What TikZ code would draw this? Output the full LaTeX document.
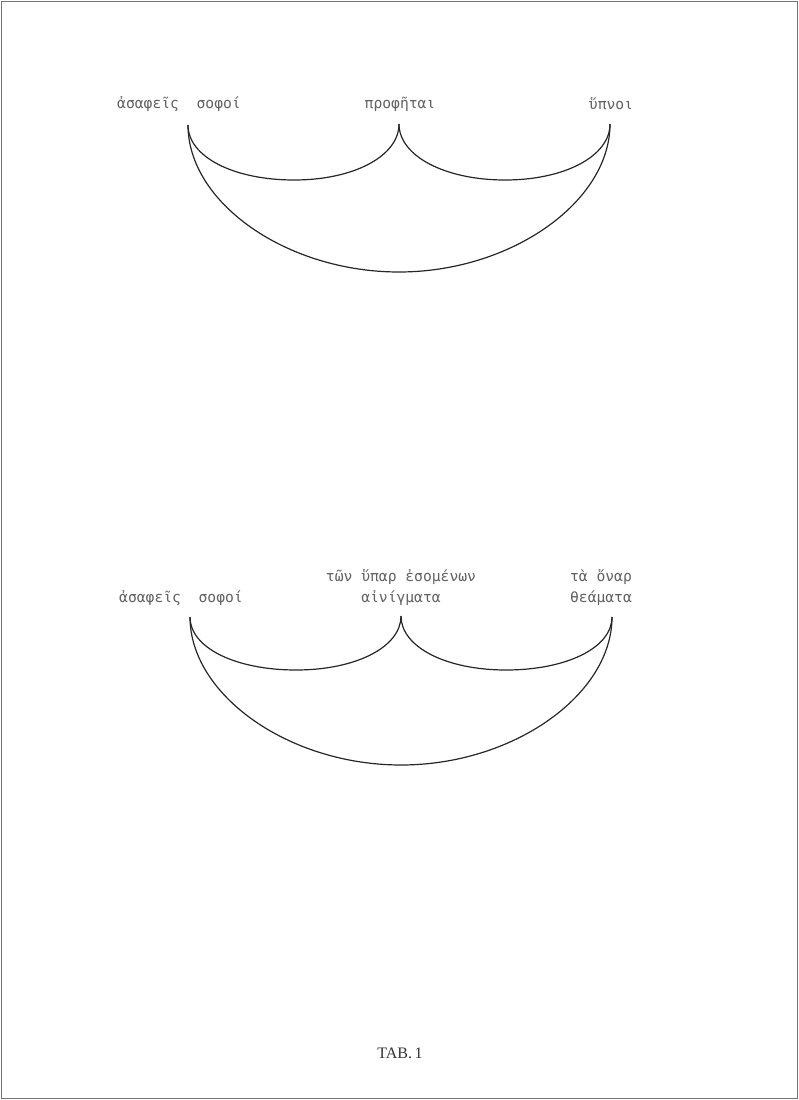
\documentclass[tikz,border=0pt]{standalone}
\usepackage{fontspec}
\setmainfont{Liberation Serif}
\newfontfamily\grk{DejaVu Sans Mono}
\begin{document}
\begin{tikzpicture}[x=0.75pt,y=-0.75pt,
  lbl/.style={font=\grk\fontsize{11}{15.75}\selectfont, text=black!62, inner sep=0, align=center},
  arcline/.style={draw=black!85, line width=0.9pt}]
\useasboundingbox (0,0) rectangle (799,1100);
\draw[black!55, line width=0.8pt] (1.5,1.5) rectangle (797.5,1098.5);

% ---------- top diagram ----------
\node[lbl] (a1) at (179,104) {ἀσαφεῖς\ \ σοφοί};
\node[lbl] (b1) at (400,104) {προφῆται};
\node[lbl] (c1) at (611,104) {ὕπνοι};
\coordinate (L1) at (188,125);
\coordinate (M1) at (399,124);
\coordinate (R1) at (610,124);
\coordinate (P1) at (294,180);
\coordinate (Q1) at (505,180);
\coordinate (B1) at (399,272);
\draw[arcline] (L1) .. controls +(0,32) and +(-60,0) .. (P1)
                    .. controls +(60,0) and +(0,32) .. (M1);
\draw[arcline] (M1) .. controls +(0,32) and +(-60,0) .. (Q1)
                    .. controls +(60,0) and +(0,32) .. (R1);
\draw[arcline] (L1) .. controls +(0,78) and +(-112,0) .. (B1)
                    .. controls +(112,0) and +(0,78) .. (R1);

% ---------- bottom diagram ----------
\node[lbl] (a2) at (181,598) {ἀσαφεῖς\ \ σοφοί};
\node[lbl] (b2) at (401,587.5) {τῶν ὕπαρ ἐσομένων\\αἰνίγματα};
\node[lbl] (c2) at (601,587.5) {τὰ ὄναρ\\θεάματα};
\coordinate (L2) at (190,617);
\coordinate (M2) at (401,616);
\coordinate (R2) at (612,617);
\coordinate (P2) at (296,670);
\coordinate (Q2) at (506,670);
\coordinate (B2) at (401,765);
\draw[arcline] (L2) .. controls +(0,31) and +(-60,0) .. (P2)
                    .. controls +(60,0) and +(0,31) .. (M2);
\draw[arcline] (M2) .. controls +(0,31) and +(-60,0) .. (Q2)
                    .. controls +(60,0) and +(0,31) .. (R2);
\draw[arcline] (L2) .. controls +(0,78) and +(-112,0) .. (B2)
                    .. controls +(112,0) and +(0,78) .. (R2);

% ---------- caption ----------
\node[font=\fontsize{12}{14}\selectfont, text=black!80, inner sep=0] (cap) at (400,1053) {TAB.\,1};
\end{tikzpicture}
\end{document}
